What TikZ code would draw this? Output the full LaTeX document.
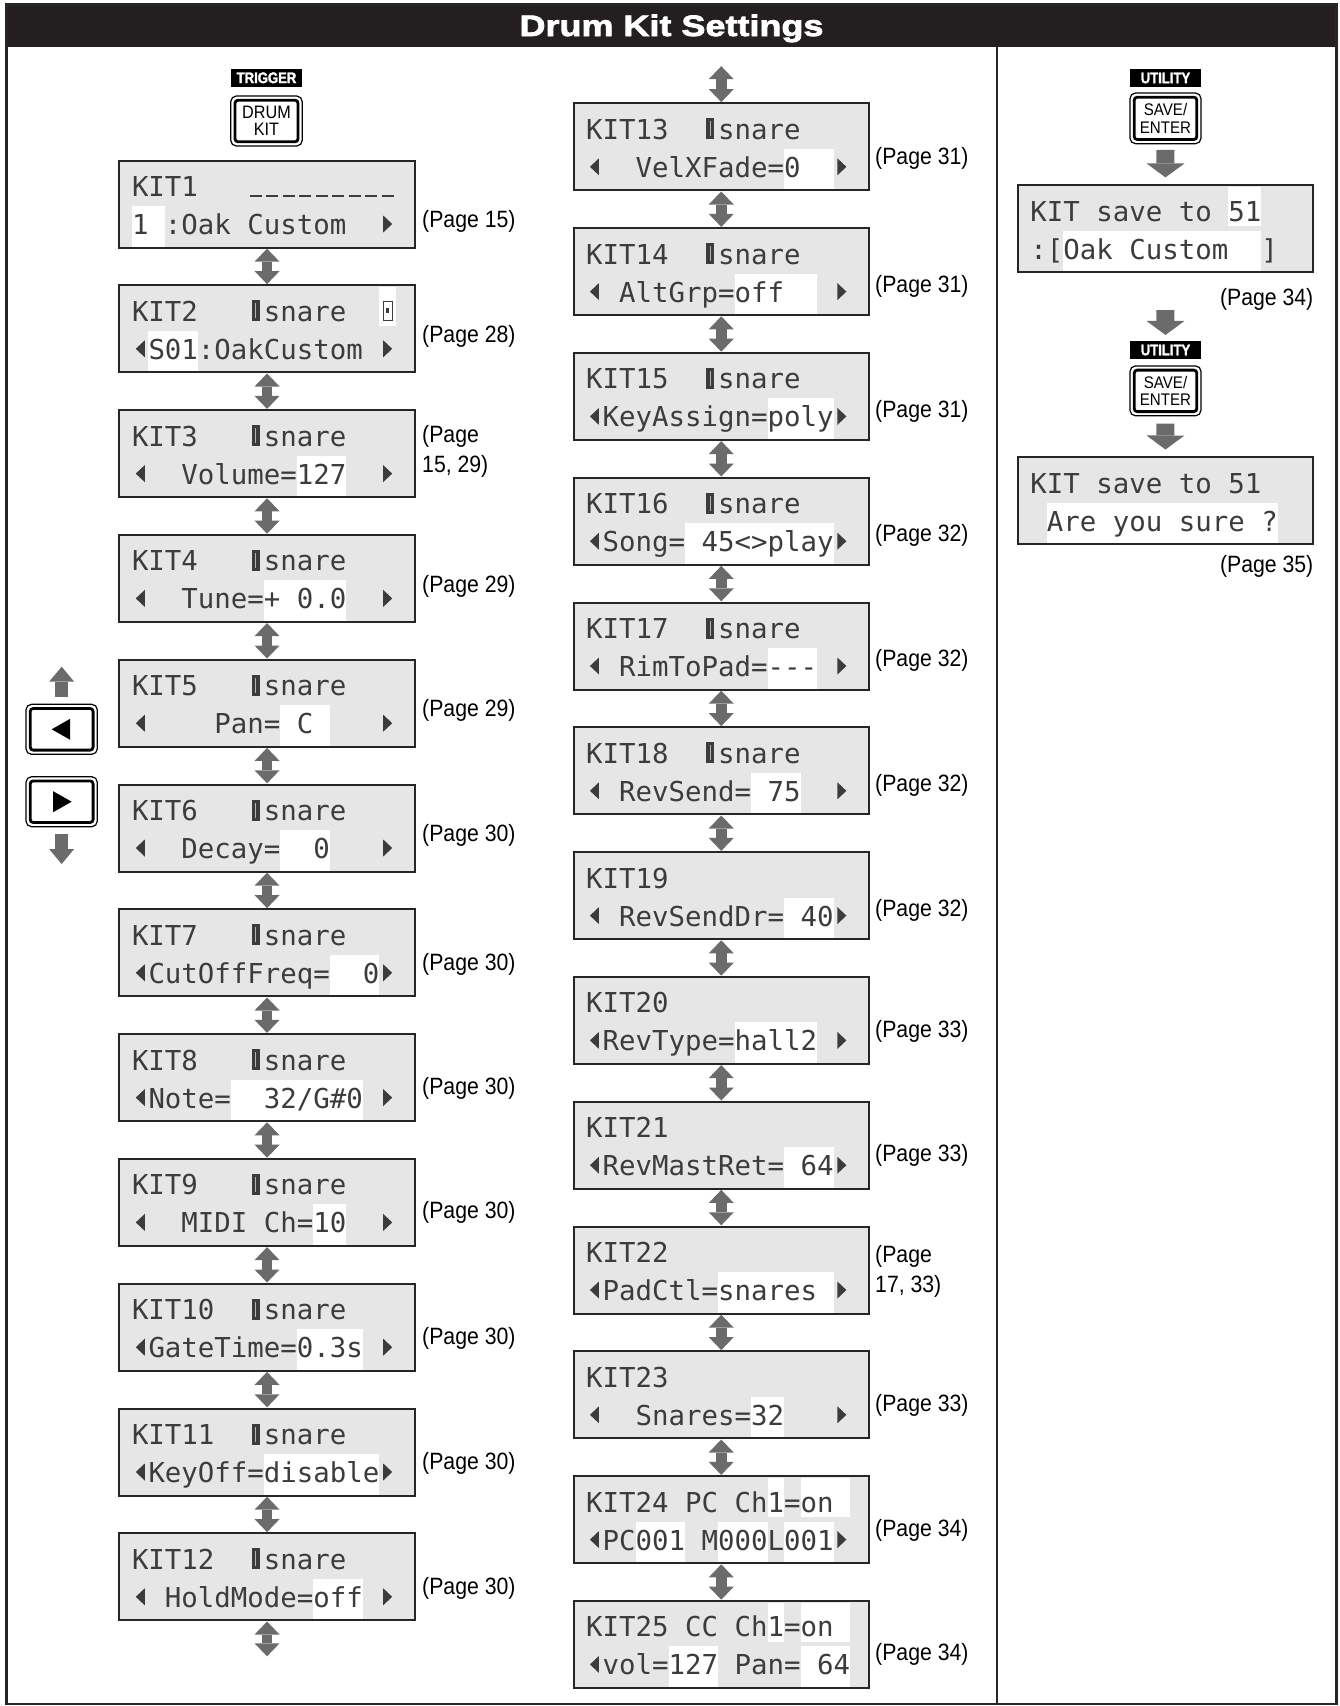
\documentclass[tikz,border=0pt]{standalone}
\usepackage{fontspec}
\usetikzlibrary{arrows.meta}
\setmainfont{Liberation Sans}
\newfontfamily\lcdf{DejaVu Sans Mono}
\newfontfamily\condf[FakeStretch=0.9]{Liberation Sans}
\newfontfamily\tagf[FakeStretch=0.85,FakeBold=1.8]{Liberation Sans}
\newfontfamily\titlef[FakeStretch=1.22,FakeBold=2.6]{Liberation Sans}
\definecolor{lcdfill}{HTML}{E6E6E6}
\definecolor{lcdink}{HTML}{3C3C3C}
\definecolor{arrowgray}{HTML}{6B6B6B}
\definecolor{headbg}{HTML}{231F20}
\definecolor{framec}{HTML}{262626}

% LCD special glyphs (one character cell = 16.5pt)
\newcommand\la{\makebox[16.5pt]{\tikz[x=1pt,y=1pt,baseline=0pt]\fill[lcdink] (0,10.5)--(9,2)--(9,19)--cycle;}}
\newcommand\ra{\makebox[16.5pt]{\tikz[x=1pt,y=1pt,baseline=0pt]\fill[lcdink] (9,10.5)--(0,2)--(0,19)--cycle;}}
\newcommand\pd{\makebox[16.5pt]{\tikz[x=1pt,y=1pt,baseline=0pt]{\fill[lcdink] (0,0) rectangle (8,21);\fill[lcdfill!70!lcdink] (3.6,3) rectangle (4.6,18);}}}
\newcommand\sqg{\makebox[16.5pt]{\tikz[x=1pt,y=1pt,baseline=0pt]{\draw[lcdink,line width=1.3pt] (0,1) rectangle (9,20);\fill[lcdink] (3,8) rectangle (6,13);}}}
\newcommand\dsh{\makebox[16.5pt]{\rule{12pt}{2pt}}}

\tikzset{
  lcdbox/.style={draw=framec, fill=lcdfill, line width=2pt, minimum width=295.5pt, minimum height=87pt, inner sep=0pt, outer sep=0pt, anchor=north west},
  lcdtxt/.style={font=\lcdf\fontsize{27.4}{30}\selectfont, text=lcdink, inner sep=0pt, anchor=base west},
  pagelbl/.style={font=\condf\fontsize{23.6}{26}\selectfont, text=black, inner sep=0pt},
  tagbox/.style={fill=black, text=white, minimum width=71pt, minimum height=17.5pt, inner sep=0pt, font=\tagf\bfseries\fontsize{15.4}{16}\selectfont},
  kbtn/.style={draw=black, line width=2.8pt, rounded corners=3pt, inner sep=0pt, outer sep=0pt, align=center, fill=white},
  dblarrow/.style={draw=arrowgray, line width=10.5pt, {Triangle[width=25pt,length=13pt,line width=0pt]}-{Triangle[width=25pt,length=13pt,line width=0pt]}, shorten <=1.2pt, shorten >=1.2pt},
  downarrow/.style={draw=arrowgray, line width=18pt, -{Triangle[width=38pt,length=14pt,line width=0pt]}},
  navarrow/.style={draw=arrowgray, line width=13pt, -{Triangle[width=25pt,length=15pt,line width=0pt]}},
  titletext/.style={font=\titlef\bfseries\fontsize{29.5}{30}\selectfont, text=white, inner sep=0pt, anchor=base},
}

% \lcd{name}{x}{top}{highlights row/from/to}{row1}{row2}
\newcommand\lcd[6]{%
  \node[lcdbox] (#1) at (#2,#3) {};
  \foreach \r/\a/\b in {#4}{%
    \pgfmathsetmacro\hxa{#2+12.5+\a*16.5}%
    \pgfmathsetmacro\hxb{#2+12.5+(\b+1)*16.5}%
    \pgfmathsetmacro\hya{#3+(\r==1?2:45.5)}%
    \pgfmathsetmacro\hyb{#3+(\r==1?41:86)}%
    \fill[white] (\hxa,\hya) rectangle (\hxb,\hyb);
  }
  \node[lcdtxt] (#1a) at (#2+12.5,#3+36) {#5};
  \node[lcdtxt] (#1b) at (#2+12.5,#3+74) {#6};
}

% \kbutton{name}{cx}{cy}{w}{h}{font}{text}
\newcommand\kbutton[7]{%
  \node[kbtn, minimum width=#4pt, minimum height=#5pt, font=#6] (#1) at (#2,#3) {#7};
  \draw[line width=1.2pt, rounded corners=5.5pt] ([shift={(-4.2,-4.2)}]#1.north west) rectangle ([shift={(4.2,4.2)}]#1.south east);
}

\begin{document}
\frenchspacing
\begin{tikzpicture}[x=1pt,y=-1pt]
\useasboundingbox (0,0) rectangle (1340,1706);
\fill[white] (0,0) rectangle (1340,1706);
\fill[headbg] (6.5,4) rectangle (1336.5,46.7);
\draw[framec, line width=2.6pt] (6.5,4.5) rectangle (1336.2,1703.8);
\draw[framec, line width=1.5pt] (997,46.7) -- (997,1703.8);
\node[titletext] (title) at (671.5,36) {Drum Kit Settings};

% ---------- left column ----------
\node[tagbox] (trig) at (266.5,77.8) {TRIGGER};
\kbutton{drumkit}{266.5}{121}{63}{41.6}{\condf\fontsize{18}{16.5}\selectfont}{DRUM\\KIT}

\lcd{k1}{119.3}{160.5}{2/0/1}{KIT1~~~\dsh\dsh\dsh\dsh\dsh\dsh\dsh\dsh\dsh}{1~:Oak~Custom~~\ra}
\lcd{k2}{119.3}{285.3}{1/15/15,2/1/3}{KIT2~~~\pd snare~~\sqg}{\la S01:OakCustom~\ra}
\lcd{k3}{119.3}{410.1}{2/10/12}{KIT3~~~\pd snare}{\la~~Volume=127~~\ra}
\lcd{k4}{119.3}{534.9}{2/8/12}{KIT4~~~\pd snare}{\la~~Tune=+~0.0~~\ra}
\lcd{k5}{119.3}{659.7}{2/9/11}{KIT5~~~\pd snare}{\la~~~~Pan=~C~~~~\ra}
\lcd{k6}{119.3}{784.5}{2/9/11}{KIT6~~~\pd snare}{\la~~Decay=~~0~~~\ra}
\lcd{k7}{119.3}{909.3}{2/12/14}{KIT7~~~\pd snare}{\la CutOffFreq=~~0\ra}
\lcd{k8}{119.3}{1034.1}{2/6/13}{KIT8~~~\pd snare}{\la Note=~~32/G\#0~\ra}
\lcd{k9}{119.3}{1158.9}{2/11/12}{KIT9~~~\pd snare}{\la~~MIDI~Ch=10~~\ra}
\lcd{k10}{119.3}{1283.7}{2/10/13}{KIT10~~\pd snare}{\la GateTime=0.3s~\ra}
\lcd{k11}{119.3}{1408.5}{2/8/14}{KIT11~~\pd snare}{\la KeyOff=disable\ra}
\lcd{k12}{119.3}{1533.3}{2/11/13}{KIT12~~\pd snare}{\la~HoldMode=off~\ra}

% ---------- middle column ----------
\lcd{k13}{573.5}{103.3}{2/12/14}{KIT13~~\pd snare}{\la~~VelXFade=0~~\ra}
\lcd{k14}{573.5}{228.1}{2/9/13}{KIT14~~\pd snare}{\la~AltGrp=off~~~\ra}
\lcd{k15}{573.5}{352.9}{2/11/14}{KIT15~~\pd snare}{\la KeyAssign=poly\ra}
\lcd{k16}{573.5}{477.7}{2/6/14}{KIT16~~\pd snare}{\la Song=~45<>play\ra}
\lcd{k17}{573.5}{602.5}{2/11/13}{KIT17~~\pd snare}{\la~RimToPad=-{}-{}-~\ra}
\lcd{k18}{573.5}{727.3}{2/10/12}{KIT18~~\pd snare}{\la~RevSend=~75~~\ra}
\lcd{k19}{573.5}{852.1}{2/12/14}{KIT19}{\la~RevSendDr=~40\ra}
\lcd{k20}{573.5}{976.9}{2/9/13}{KIT20}{\la RevType=hall2~\ra}
\lcd{k21}{573.5}{1101.7}{2/12/14}{KIT21}{\la RevMastRet=~64\ra}
\lcd{k22}{573.5}{1226.5}{2/8/14}{KIT22}{\la PadCtl=snares~\ra}
\lcd{k23}{573.5}{1351.3}{2/10/11}{KIT23}{\la~~Snares=32~~~\ra}
\lcd{k24}{573.5}{1476.1}{1/11/11,1/13/15,2/3/5,2/8/10,2/12/14}{KIT24~PC~Ch1=on~}{\la PC001~M000L001\ra}
\lcd{k25}{573.5}{1600.9}{1/11/11,1/13/15,2/5/7,2/13/15}{KIT25~CC~Ch1=on~}{\la vol=127~Pan=~64}

% double arrows
\foreach \u/\v in {k1/k2,k2/k3,k3/k4,k4/k5,k5/k6,k6/k7,k7/k8,k8/k9,k9/k10,k10/k11,k11/k12,
                   k13/k14,k14/k15,k15/k16,k16/k17,k17/k18,k18/k19,k19/k20,k20/k21,k21/k22,k22/k23,k23/k24,k24/k25}
  \draw[dblarrow] (\u.south) -- (\v.north);
\coordinate (midtop) at (721.25,65);
\coordinate (leftbot) at (267.05,1657.5);
\draw[dblarrow] (midtop) -- (k13.north);
\draw[dblarrow] (k12.south) -- (leftbot);

% page labels left
\node[pagelbl, anchor=west] (p1) at (422,221.5) {(Page 15)};
\node[pagelbl, anchor=west] (p2) at (422,336.1) {(Page 28)};
\node[pagelbl, anchor=west] (p3a) at (422,436.2) {(Page};
\node[pagelbl, anchor=west] (p3b) at (422,466.6) {15, 29)};
\node[pagelbl, anchor=west] (p4) at (422,586.3) {(Page 29)};
\node[pagelbl, anchor=west] (p5) at (422,710.3) {(Page 29)};
\node[pagelbl, anchor=west] (p6) at (422,835.3) {(Page 30)};
\node[pagelbl, anchor=west] (p7) at (422,964.8) {(Page 30)};
\node[pagelbl, anchor=west] (p8) at (422,1088.8) {(Page 30)};
\node[pagelbl, anchor=west] (p9) at (422,1212.8) {(Page 30)};
\node[pagelbl, anchor=west] (p10) at (422,1337.9) {(Page 30)};
\node[pagelbl, anchor=west] (p11) at (422,1462.9) {(Page 30)};
\node[pagelbl, anchor=west] (p12) at (422,1588) {(Page 30)};
% page labels middle
\node[pagelbl, anchor=west] (p13) at (875,158.8) {(Page 31)};
\node[pagelbl, anchor=west] (p14) at (875,286.1) {(Page 31)};
\node[pagelbl, anchor=west] (p15) at (875,411.2) {(Page 31)};
\node[pagelbl, anchor=west] (p16) at (875,535.1) {(Page 32)};
\node[pagelbl, anchor=west] (p17) at (875,660.2) {(Page 32)};
\node[pagelbl, anchor=west] (p18) at (875,785.3) {(Page 32)};
\node[pagelbl, anchor=west] (p19) at (875,910.4) {(Page 32)};
\node[pagelbl, anchor=west] (p20) at (875,1031.1) {(Page 33)};
\node[pagelbl, anchor=west] (p21) at (875,1155.1) {(Page 33)};
\node[pagelbl, anchor=west] (p22a) at (875,1256.3) {(Page};
\node[pagelbl, anchor=west] (p22b) at (875,1286.7) {17, 33)};
\node[pagelbl, anchor=west] (p23) at (875,1405.3) {(Page 33)};
\node[pagelbl, anchor=west] (p24) at (875,1530.4) {(Page 34)};
\node[pagelbl, anchor=west] (p25) at (875,1654.4) {(Page 34)};

% ---------- navigation buttons ----------
\kbutton{btnl}{61.65}{729.3}{62.9}{41.6}{}{}
\kbutton{btnr}{61.65}{801.7}{62.9}{41.6}{}{}
\fill ([shift={(-10,0)}]btnl.center) -- ([shift={(8.5,-10.5)}]btnl.center) -- ([shift={(8.5,10.5)}]btnl.center) -- cycle;
\fill ([shift={(10,0)}]btnr.center) -- ([shift={(-8.5,-10.5)}]btnr.center) -- ([shift={(-8.5,10.5)}]btnr.center) -- cycle;
\coordinate (upend) at (61.65,666.7);
\coordinate (downend) at (61.65,864);
\draw[navarrow, shorten <=11.8pt] (btnl.north) -- (upend);
\draw[navarrow, shorten <=11.5pt] (btnr.south) -- (downend);

% ---------- right column ----------
\node[tagbox] (util1) at (1165.5,78) {UTILITY};
\kbutton{save1}{1165.5}{118.35}{62.6}{42.3}{\condf\fontsize{16.8}{17.4}\selectfont}{SAVE/\\ENTER}
\lcd{s1}{1017.7}{185.3}{1/12/13,2/2/13}{KIT~save~to~51}{:[Oak~Custom~~]}
\node[pagelbl, anchor=east] (ps1) at (1313.5,299.7) {(Page 34)};
\node[tagbox] (util2) at (1165.5,350.1) {UTILITY};
\kbutton{save2}{1165.5}{390.85}{62.6}{41.5}{\condf\fontsize{16.8}{17.4}\selectfont}{SAVE/\\ENTER}
\lcd{s2}{1017.7}{457.4}{2/1/14}{KIT~save~to~51}{~Are~you~sure~?}
\node[pagelbl, anchor=east] (ps2) at (1313.5,566.5) {(Page 35)};

\draw[downarrow, shorten <=10.4pt, shorten >=7.9pt] (save1.south) -- (s1.north);
\draw[downarrow, shorten <=37.7pt, shorten >=6.2pt] (s1.south) -- (util2.north);
\draw[downarrow, shorten <=12pt, shorten >=7.9pt] (save2.south) -- (s2.north);
\end{tikzpicture}
\end{document}
